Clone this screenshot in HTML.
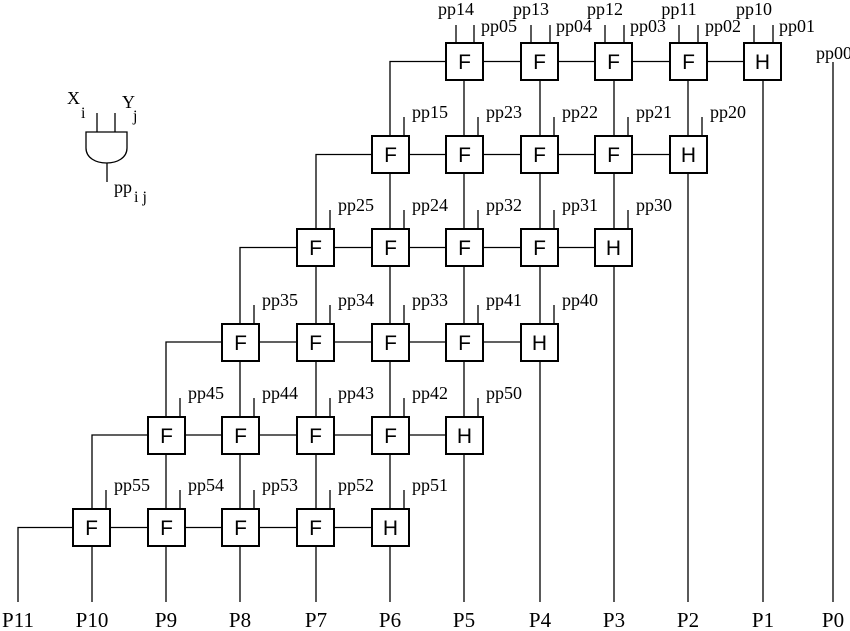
<!DOCTYPE html>
<html><head><meta charset="utf-8"><style>
html,body{margin:0;padding:0;background:#fff}
svg{display:block}
.s{font-family:"Liberation Serif",serif;font-size:18px;fill:#000}
.P{font-family:"Liberation Serif",serif;font-size:21px;fill:#000}
.b{font-family:"Liberation Sans",sans-serif;font-size:21px;fill:#000;text-anchor:middle}
</style></head><body>
<svg width="850" height="631" viewBox="0 0 850 631" xmlns="http://www.w3.org/2000/svg">
<g stroke="#000" stroke-width="1.3" fill="none">
<line x1="763" y1="61.5" x2="763" y2="602"/>
<line x1="688" y1="61.5" x2="688" y2="602"/>
<line x1="614" y1="61.5" x2="614" y2="602"/>
<line x1="540" y1="61.5" x2="540" y2="602"/>
<line x1="464" y1="61.5" x2="464" y2="602"/>
<line x1="390" y1="154.5" x2="390" y2="602"/>
<line x1="316" y1="247.5" x2="316" y2="602"/>
<line x1="240" y1="342" x2="240" y2="602"/>
<line x1="166" y1="435" x2="166" y2="602"/>
<line x1="92" y1="527.5" x2="92" y2="602"/>
<line x1="833" y1="62" x2="833" y2="602"/>
<polyline points="763,61.5 390,61.5 390,154.5"/>
<polyline points="688,154.5 316,154.5 316,247.5"/>
<polyline points="614,247.5 240,247.5 240,342"/>
<polyline points="540,342 166,342 166,435"/>
<polyline points="464,435 92,435 92,527.5"/>
<polyline points="390,527.5 18,527.5 18,602"/>
<line x1="456" y1="25" x2="456" y2="43"/><line x1="474" y1="25" x2="474" y2="43"/>
<line x1="531" y1="25" x2="531" y2="43"/><line x1="550" y1="25" x2="550" y2="43"/>
<line x1="605" y1="25" x2="605" y2="43"/><line x1="624" y1="25" x2="624" y2="43"/>
<line x1="679" y1="25" x2="679" y2="43"/><line x1="698" y1="25" x2="698" y2="43"/>
<line x1="754" y1="25" x2="754" y2="43"/><line x1="773" y1="25" x2="773" y2="43"/>
<line x1="404" y1="117" x2="404" y2="136"/><line x1="478" y1="117" x2="478" y2="136"/><line x1="554" y1="117" x2="554" y2="136"/><line x1="628" y1="117" x2="628" y2="136"/><line x1="702" y1="117" x2="702" y2="136"/>
<line x1="330" y1="210" x2="330" y2="229"/><line x1="404" y1="210" x2="404" y2="229"/><line x1="478" y1="210" x2="478" y2="229"/><line x1="554" y1="210" x2="554" y2="229"/><line x1="628" y1="210" x2="628" y2="229"/>
<line x1="254" y1="305" x2="254" y2="324"/><line x1="330" y1="305" x2="330" y2="324"/><line x1="404" y1="305" x2="404" y2="324"/><line x1="478" y1="305" x2="478" y2="324"/><line x1="554" y1="305" x2="554" y2="324"/>
<line x1="180" y1="398" x2="180" y2="417"/><line x1="254" y1="398" x2="254" y2="417"/><line x1="330" y1="398" x2="330" y2="417"/><line x1="404" y1="398" x2="404" y2="417"/><line x1="478" y1="398" x2="478" y2="417"/>
<line x1="106" y1="490" x2="106" y2="509"/><line x1="180" y1="490" x2="180" y2="509"/><line x1="254" y1="490" x2="254" y2="509"/><line x1="330" y1="490" x2="330" y2="509"/><line x1="404" y1="490" x2="404" y2="509"/>
<line x1="97" y1="113" x2="97" y2="132"/><line x1="115" y1="113" x2="115" y2="132"/>
<path d="M86,132 H127 V148 C127,158 117,163 106.5,163 C96,163 86,158 86,148 Z" fill="#fff"/>
<line x1="107" y1="163" x2="107" y2="182"/>
</g>
<g stroke="#000" stroke-width="2" fill="#fff">
<rect x="446" y="43" width="37" height="37"/><rect x="521" y="43" width="37" height="37"/><rect x="595" y="43" width="37" height="37"/><rect x="670" y="43" width="37" height="37"/><rect x="744" y="43" width="37" height="37"/>
<rect x="372" y="136" width="37" height="37"/><rect x="446" y="136" width="37" height="37"/><rect x="521" y="136" width="37" height="37"/><rect x="595" y="136" width="37" height="37"/><rect x="670" y="136" width="37" height="37"/>
<rect x="297" y="229" width="37" height="37"/><rect x="372" y="229" width="37" height="37"/><rect x="446" y="229" width="37" height="37"/><rect x="521" y="229" width="37" height="37"/><rect x="595" y="229" width="37" height="37"/>
<rect x="222" y="324" width="37" height="37"/><rect x="297" y="324" width="37" height="37"/><rect x="372" y="324" width="37" height="37"/><rect x="446" y="324" width="37" height="37"/><rect x="521" y="324" width="37" height="37"/>
<rect x="148" y="417" width="37" height="37"/><rect x="222" y="417" width="37" height="37"/><rect x="297" y="417" width="37" height="37"/><rect x="372" y="417" width="37" height="37"/><rect x="446" y="417" width="37" height="37"/>
<rect x="73" y="509" width="37" height="37"/><rect x="148" y="509" width="37" height="37"/><rect x="222" y="509" width="37" height="37"/><rect x="297" y="509" width="37" height="37"/><rect x="372" y="509" width="37" height="37"/>
</g>
<g class="b">
<text x="464.5" y="69">F</text><text x="539.5" y="69">F</text><text x="613.5" y="69">F</text><text x="688.5" y="69">F</text><text x="762.5" y="69">H</text>
<text x="390.5" y="162">F</text><text x="464.5" y="162">F</text><text x="539.5" y="162">F</text><text x="613.5" y="162">F</text><text x="688.5" y="162">H</text>
<text x="315.5" y="255">F</text><text x="390.5" y="255">F</text><text x="464.5" y="255">F</text><text x="539.5" y="255">F</text><text x="613.5" y="255">H</text>
<text x="240.5" y="350">F</text><text x="315.5" y="350">F</text><text x="390.5" y="350">F</text><text x="464.5" y="350">F</text><text x="539.5" y="350">H</text>
<text x="166.5" y="443">F</text><text x="240.5" y="443">F</text><text x="315.5" y="443">F</text><text x="390.5" y="443">F</text><text x="464.5" y="443">H</text>
<text x="91.5" y="535">F</text><text x="166.5" y="535">F</text><text x="240.5" y="535">F</text><text x="315.5" y="535">F</text><text x="390.5" y="535">H</text>
</g>
<g class="s">
<text x="456" y="15" text-anchor="middle">pp14</text><text x="481" y="32">pp05</text>
<text x="531" y="15" text-anchor="middle">pp13</text><text x="556" y="32">pp04</text>
<text x="605" y="15" text-anchor="middle">pp12</text><text x="630" y="32">pp03</text>
<text x="679" y="15" text-anchor="middle">pp11</text><text x="705" y="32">pp02</text>
<text x="754" y="15" text-anchor="middle">pp10</text><text x="779" y="32">pp01</text>
<text x="816" y="59">pp00</text>
<text x="412" y="118">pp15</text><text x="486" y="118">pp23</text><text x="562" y="118">pp22</text><text x="636" y="118">pp21</text><text x="710" y="118">pp20</text>
<text x="338" y="211">pp25</text><text x="412" y="211">pp24</text><text x="486" y="211">pp32</text><text x="562" y="211">pp31</text><text x="636" y="211">pp30</text>
<text x="262" y="306">pp35</text><text x="338" y="306">pp34</text><text x="412" y="306">pp33</text><text x="486" y="306">pp41</text><text x="562" y="306">pp40</text>
<text x="188" y="399">pp45</text><text x="262" y="399">pp44</text><text x="338" y="399">pp43</text><text x="412" y="399">pp42</text><text x="486" y="399">pp50</text>
<text x="114" y="491">pp55</text><text x="188" y="491">pp54</text><text x="262" y="491">pp53</text><text x="338" y="491">pp52</text><text x="412" y="491">pp51</text>
<text x="67" y="104">X</text><text x="81" y="118" font-size="16">i</text>
<text x="122" y="108">Y</text><text x="133" y="121" font-size="16">j</text>
<text x="114" y="193">pp</text><text x="134" y="202" font-size="16">i j</text>
</g>
<g class="P" text-anchor="middle">
<text x="18" y="627">P11</text><text x="92" y="627">P10</text><text x="166" y="627">P9</text><text x="240" y="627">P8</text><text x="316" y="627">P7</text><text x="390" y="627">P6</text><text x="464" y="627">P5</text><text x="540" y="627">P4</text><text x="614" y="627">P3</text><text x="688" y="627">P2</text><text x="763" y="627">P1</text><text x="833" y="627">P0</text>
</g>
</svg>
</body></html>
